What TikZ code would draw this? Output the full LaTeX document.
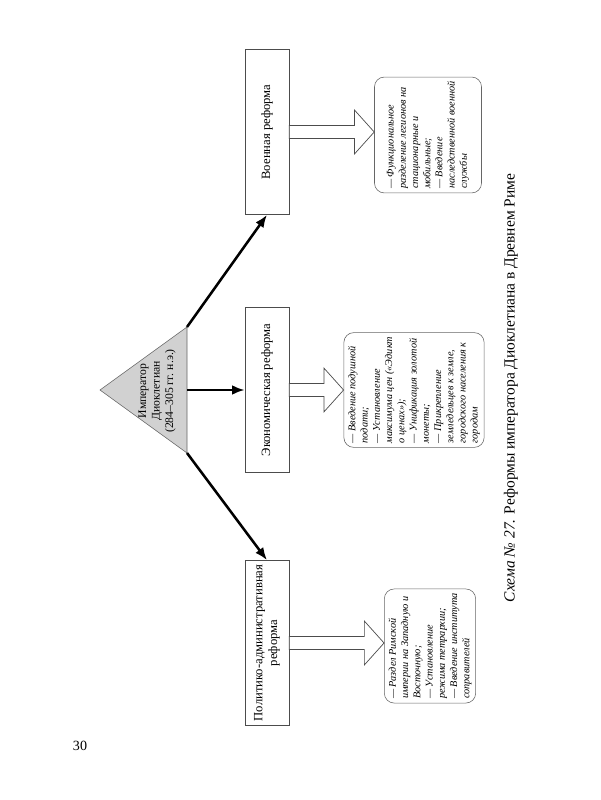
\documentclass[tikz,border=0pt]{standalone}
\usepackage{fontspec}
\setmainfont{Liberation Serif}
\usepackage{tikz}
\usetikzlibrary{arrows.meta,calc}
\newcommand{\hollowarrow}[2]{%
  \draw[hollow] let \p1=(#1.south), \p2=(#2.north) in
    (\x1,\y1+4.6pt) -- (\x2-14pt,\y1+4.6pt) -- (\x2-14pt,\y1+15.6pt) -- (\x2,\y1)
    -- (\x2-14pt,\y1-15.6pt) -- (\x2-14pt,\y1-4.6pt) -- (\x1,\y1-4.6pt) -- cycle;}

\begin{document}
\begin{tikzpicture}[
  x=0.025cm, y=-0.025cm,
  box/.style={draw=black!70, rotate=90, minimum width=4.125cm, minimum height=1.1cm, align=center, inner sep=2pt, font=\fontsize{9}{10.5}\selectfont},
  note/.style={draw=black!60, rounded corners=7pt, rotate=90, align=left, inner sep=3pt, font=\fontsize{7.3}{8.7}\selectfont\itshape},
  arr/.style={-{Latex[length=9pt,width=7pt]}, line width=1.8pt},
  hollow/.style={draw=black!70, fill=white, line width=0.5pt}
]
\useasboundingbox (0,0) rectangle (600,800);
% emperor
\coordinate (apex) at (100,390);
\coordinate (ctop) at (187,327);
\coordinate (cbot) at (187,453);
\coordinate (cmid) at (187,390);
\draw[draw=black!60, fill=black!18] (apex) -- (ctop) -- (cbot) -- cycle;
\node[rotate=90, align=center, font=\fontsize{8.3}{9.6}\selectfont] (emp) at (157,391) {Император\\Диоклетиан\\(284--305 гг. н.э.)};
% reforms
\node[box] (mil) at (267,132) {Военная реформа};
\node[box] (econ) at (267,390) {Экономическая реформа};
\node[box] (pol) at (267,643) {Политико-административная\\реформа};
\draw[arr] (ctop) -- (mil.west);
\draw[arr] (cmid) -- (econ.north);
\draw[arr] (cbot) -- (pol.east);
% contents
\node[note, minimum width=2.75cm, minimum height=2.675cm] (milnote) at (428,135)
  {--- Функциональное\\разделение легионов на\\стационарные и\\мобильные;\\--- Введение\\наследственной военной\\службы};
\node[note, minimum width=2.775cm, minimum height=3.4cm] (econnote) at (414,390)
  {--- Введение подушной\\подати;\\--- Установление\\максимума цен («Эдикт\\о ценах»);\\--- Унификация золотой\\монеты;\\--- Прикрепление\\земледельцев к земле,\\городского населения к\\городам};
\node[note, minimum width=2.8cm, minimum height=2.275cm] (polnote) at (430,646)
  {--- Раздел Римской\\империи на Западную и\\Восточную;\\--- Установление\\режима тетрархии;\\--- Введение института\\соправителей};
\hollowarrow{mil}{milnote}
\hollowarrow{econ}{econnote}
\hollowarrow{pol}{polnote}
% caption and page number
\node[rotate=90, font=\fontsize{11}{13}\selectfont] (caption) at (511,388) {\textit{Схема №~27.} Реформы императора Диоклетиана в Древнем Риме};
\node[font=\fontsize{10}{12}\selectfont] (page) at (80,746) {30};
\end{tikzpicture}
\end{document}
